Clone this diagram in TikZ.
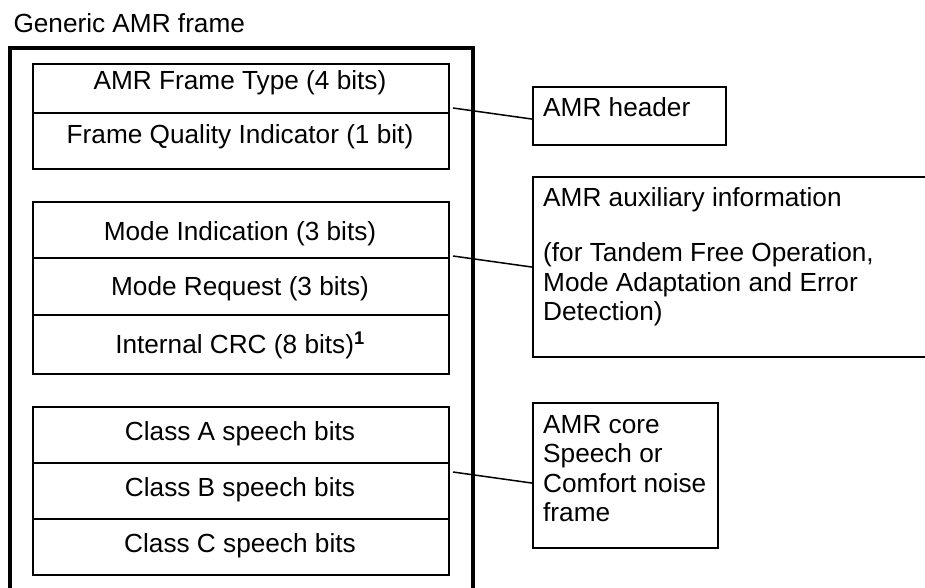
\documentclass[tikz,border=0pt]{standalone}
\usepackage{fontspec}
\setmainfont{Liberation Sans}
\begin{document}
\begin{tikzpicture}[x=1pt,y=-1pt,
  txt/.style={font=\fontsize{26.2}{29.5}\selectfont, inner sep=0pt, anchor=base},
  rtxt/.style={txt, anchor=base west, align=left},
  row/.style={draw, line width=2pt, minimum width=416pt, anchor=north west, inner sep=0pt},
  rbox/.style={draw, line width=1.5pt, line join=miter},
  conn/.style={line width=1.5pt}]
\useasboundingbox (0,0) rectangle (925,588);
\clip (0,0) rectangle (925,588);
% title
\node[txt, anchor=base west] (title) at (13.3,32.3) {Generic AMR frame};
% outer frame
\draw[line width=3.5pt, line join=miter] (10,600) -- (10,48) -- (473,48) -- (473,600);
% group 1
\node[row, minimum height=48.4pt] (g1a) at (32,63.3) {};
\node[row, minimum height=56.6pt] (g1b) at (32,111.7) {};
\node[txt] (t1a) at (240,90) {AMR Frame Type (4 bits)};
\node[txt] (t1b) at (240,143.3) {Frame Quality Indicator (1 bit)};
% group 2
\node[row, minimum height=55.7pt] (g2a) at (32,201) {};
\node[row, minimum height=57.3pt] (g2b) at (32,256.7) {};
\node[row, minimum height=59.3pt] (g2c) at (32,314) {};
\node[txt] (t2a) at (240,240) {Mode Indication (3 bits)};
\node[txt] (t2b) at (240,295) {Mode Request (3 bits)};
\node[txt] (t2c) at (240,353.3) {Internal CRC (8 bits)\textsuperscript{\textbf{1}}};
% group 3
\node[row, minimum height=55.7pt] (g3a) at (32,406) {};
\node[row, minimum height=56.6pt] (g3b) at (32,461.7) {};
\node[row, minimum height=56pt] (g3c) at (32,518.3) {};
\node[txt] (t3a) at (240,440.7) {Class A speech bits};
\node[txt] (t3b) at (240,496.7) {Class B speech bits};
\node[txt] (t3c) at (240,552.7) {Class C speech bits};
% right boxes
\draw[rbox] (533,87) rectangle (726,145);
\node[inner sep=0pt, minimum width=193pt, minimum height=58pt, anchor=north west] (hdr) at (533,87) {};
\node[rtxt] (hdrt) at (543,116.7) {AMR header};
\draw[rbox] (533,177) rectangle (928,357);
\node[inner sep=0pt, minimum width=395pt, minimum height=180pt, anchor=north west] (aux) at (533,177) {};
\node[rtxt] (auxt) at (543,320.7) {AMR auxiliary information\\[26pt](for Tandem Free Operation,\\Mode Adaptation and Error\\Detection)};
\draw[rbox] (533,403) rectangle (718,548);
\node[inner sep=0pt, minimum width=185pt, minimum height=145pt, anchor=north west] (core) at (533,403) {};
\node[rtxt] (coret) at (543,521.7) {AMR core\\Speech or\\Comfort noise\\frame};
% connectors
\coordinate (c1) at (453,108);
\coordinate (c2) at (453,256);
\coordinate (c3) at (453,472);
\draw[conn] (c1) -- ([yshift=-3pt]hdr.west);
\draw[conn] (c2) -- (aux.west);
\draw[conn] (c3) -- ([yshift=-7.5pt]core.west);
\end{tikzpicture}
\end{document}
